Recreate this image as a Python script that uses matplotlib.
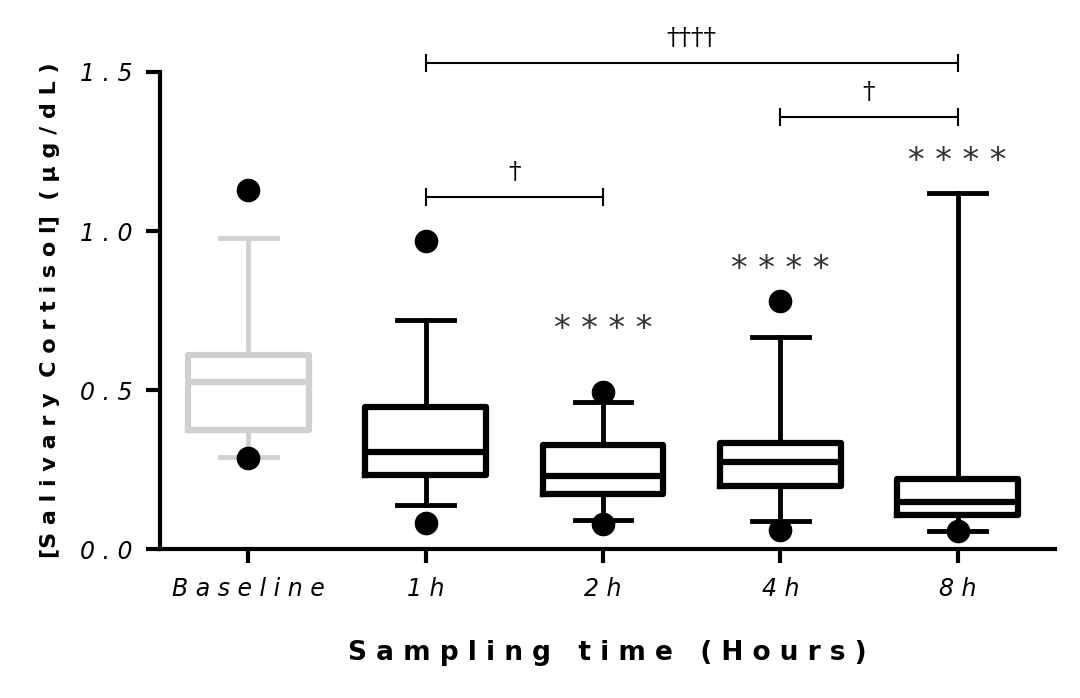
import matplotlib
matplotlib.use("Agg")
import matplotlib.pyplot as plt

labels = ["Baseline", "1h", "2h", "4h", "8h"]
q1 = [0.374, 0.233, 0.173, 0.200, 0.107]
med = [0.525, 0.305, 0.230, 0.274, 0.148]
q3 = [0.610, 0.447, 0.327, 0.333, 0.220]
whislo = [0.290, 0.140, 0.093, 0.090, 0.057]
whishi = [0.978, 0.720, 0.462, 0.667, 1.120]
outliers = [[1.13, 0.286], [0.97, 0.082], [0.494, 0.08], [0.78, 0.06], [0.057]]
colors = ["#d0d0d0", "black", "black", "black", "black"]

brackets = [(1, 4, 1.528, "††††"), (3, 4, 1.358, "†"), (1, 2, 1.107, "†")]
stars = [(2, 0.69), (3, 0.88), (4, 1.22)]

fig = plt.figure(figsize=(10.8, 6.98), dpi=100)
ax = fig.add_axes([0.148, 0.213, 0.829, 0.684])

for i in range(len(labels)):
    stats = [dict(q1=q1[i], med=med[i], q3=q3[i], whislo=whislo[i], whishi=whishi[i], fliers=[])]
    c = colors[i]
    lp = dict(color=c, linewidth=4.5)
    ax.bxp(stats, positions=[i], widths=0.68, capwidths=0.32, showfliers=False, boxprops=lp,
           medianprops=lp, whiskerprops=dict(color=c, linewidth=3.5), capprops=dict(color=c, linewidth=3.5))
    ax.plot([i] * len(outliers[i]), outliers[i], "o", color="black", markersize=16, zorder=5, clip_on=False)

for a, b, y, t in brackets:
    ax.plot([a, b], [y, y], color="black", lw=1.5, clip_on=False)
    ax.plot([a, a], [y - 0.025, y + 0.025], color="black", lw=1.5, clip_on=False)
    ax.plot([b, b], [y - 0.025, y + 0.025], color="black", lw=1.5, clip_on=False)
    ax.text((a + b) / 2, y + 0.04, t, ha="center", va="bottom", fontsize=18,
            family="DejaVu Serif", clip_on=False)

for x, y in stars:
    ax.text(x, y, "* * * *", ha="center", va="center", fontsize=24, color="#333333")

ax.set_xlim(-0.5, 4.55)
ax.set_ylim(0, 1.5)
ax.set_yticks([0, 0.5, 1.0, 1.5])
ax.set_yticklabels(["0 . 0", "0 . 5", "1 . 0", "1 . 5"], fontsize=17, style="italic")
ax.set_xticks(range(len(labels)))
ax.set_xticklabels(["B a s e l i n e", "1 h", "2 h", "4 h", "8 h"], fontsize=17, style="italic")
for s in ["top", "right"]:
    ax.spines[s].set_visible(False)
for s in ["left", "bottom"]:
    ax.spines[s].set_linewidth(3)
ax.tick_params(width=3, length=10, pad=10)
ax.set_xlabel("S a m p l i n g   t i m e   ( H o u r s )", fontsize=19, fontweight="bold", labelpad=28)
ax.set_ylabel("[S a l i v a r y  C o r t i s o l]  ( µ g / d L )", fontsize=16, fontweight="bold", labelpad=14)

fig.savefig("out.png", facecolor="white")
